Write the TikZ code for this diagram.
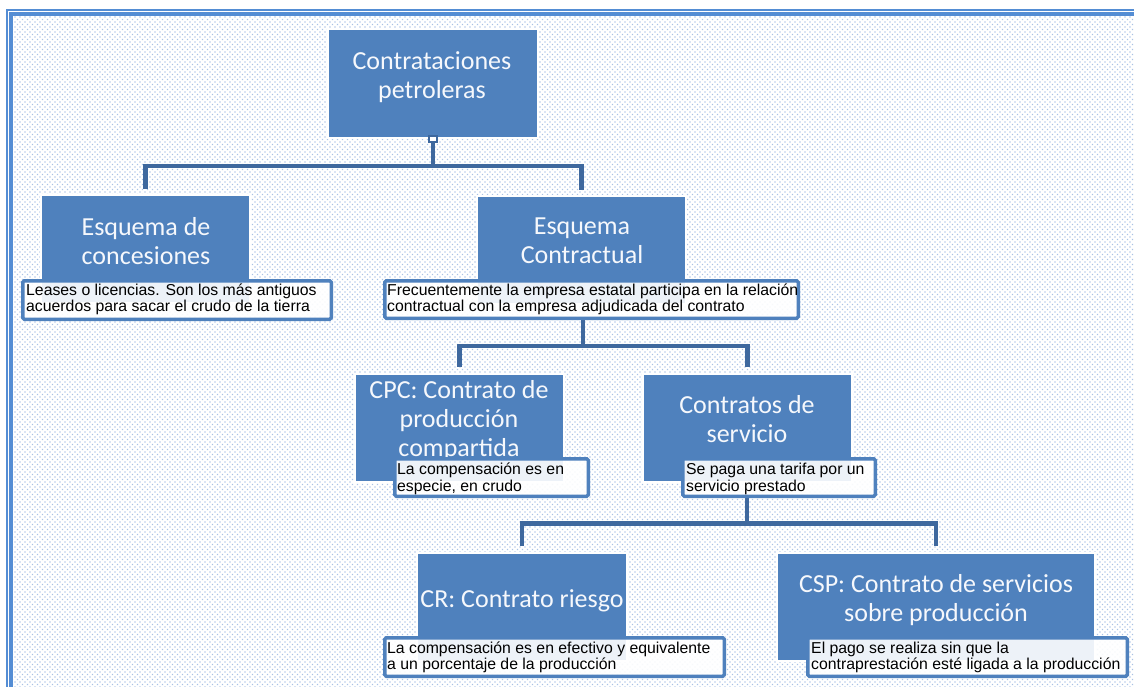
\documentclass[tikz,border=0pt]{standalone}
\usepackage{fontspec}
\usetikzlibrary{patterns}
\newfontfamily\titlefont{Carlito}
\newfontfamily\descfont{Liberation Sans}
\definecolor{boxblue}{RGB}{79,129,189}
\definecolor{linkblue}{RGB}{62,104,158}
\definecolor{framecol}{RGB}{84,141,212}
\definecolor{dotcol}{RGB}{168,193,230}
\definecolor{titlewhite}{RGB}{246,248,252}
\pgfdeclarepatternformonly{bgdots}{\pgfqpoint{-1pt}{-1pt}}{\pgfqpoint{4pt}{4pt}}{\pgfqpoint{5pt}{5pt}}{%
  \pgfpathrectangle{\pgfqpoint{-0.55pt}{-0.55pt}}{\pgfqpoint{1.1pt}{1.1pt}}%
  \pgfpathrectangle{\pgfqpoint{1.95pt}{1.95pt}}{\pgfqpoint{1.1pt}{1.1pt}}%
  \pgfusepath{fill}}
\newcommand\tstrut{\rule[-6.5pt]{0pt}{26pt}}
\newcommand\dstrut{\rule[-3.5pt]{0pt}{15.5pt}}
\tikzset{
  bbox/.style={rectangle, fill=boxblue, draw=white, line width=1.5pt, inner sep=0pt},
  ttext/.style={font=\titlefont\fontsize{26}{29}\selectfont, text=titlewhite, align=center, inner sep=0pt, anchor=north},
  dbox/.style={rectangle, draw=boxblue, line width=3.5pt, fill=white, fill opacity=0.9, rounded corners=1.5pt, inner sep=0pt},
  dtext/.style={font=\descfont\fontsize{15.8}{16.5}\selectfont, text=black, align=left, inner sep=0pt, anchor=north west},
  link/.style={draw=linkblue, line width=4.3pt},
  handle/.style={rectangle, draw=linkblue, fill=white, line width=2pt, minimum width=8pt, minimum height=6pt, inner sep=0pt}
}
\begin{document}
\begin{tikzpicture}[x=1pt, y=-1pt]
\useasboundingbox (0,0) rectangle (1134,687);
\fill[white] (0,0) rectangle (1134,687);
\begin{scope}
\clip (0,0) rectangle (1134,687);
\fill[pattern=bgdots, pattern color=dotcol] (13,16) rectangle (1134,687);
\draw[framecol, line width=2pt] (7,700) -- (7,10) -- (1140,10);
\draw[framecol, line width=4pt] (11,700) -- (11,14) -- (1140,14);
\end{scope}

% main boxes
\node[bbox, minimum width=210pt, minimum height=109pt] (top) at (433,83.5) {};
\node[bbox, minimum width=209pt, minimum height=108pt] (conc) at (145.5,249) {};
\node[bbox, minimum width=209pt, minimum height=108pt] (contr) at (581.5,250) {};
\node[bbox, minimum width=209pt, minimum height=108pt] (cpc) at (459.5,428) {};
\node[bbox, minimum width=209pt, minimum height=108pt] (serv) at (747.5,428) {};
\node[bbox, minimum width=210pt, minimum height=108pt] (cr) at (522,607) {};
\node[bbox, minimum width=318pt, minimum height=108pt] (csp) at (936,607) {};

% connectors
\coordinate (j1) at (433,166);
\draw[link] (top.south) -- (j1);
\draw[link, shorten >=5pt] (j1) -| (conc.north);
\draw[link, shorten >=5pt] (j1) -| (contr.north);
\coordinate (j2) at (583,346);
\draw[link] (j2 |- 0,318) -- (j2);
\draw[link, shorten >=6pt] (j2) -| (cpc.north);
\draw[link, shorten >=6pt] (j2) -| (serv.north);
\coordinate (j3) at (747,523.5);
\draw[link] (j3 |- 0,496) -- (j3);
\draw[link, shorten >=6pt] (j3) -| (cr.north);
\draw[link, shorten >=6pt] (j3) -| (csp.north);
\node[handle] (hdl) at (433,139.5) {};

% titles
\node[ttext] (top-t) at (432,49.5) {\tstrut Contrataciones\\\tstrut petroleras};
\node[ttext] (conc-t) at (146,215.5) {\tstrut Esquema de\\\tstrut concesiones};
\node[ttext] (contr-t) at (582,215) {\tstrut Esquema\\\tstrut Contractual};
\node[ttext] (cpc-t) at (459,378.5) {\tstrut CPC: Contrato de\\\tstrut producción\\\tstrut compartida};
\node[ttext] (serv-t) at (747,393.5) {\tstrut Contratos de\\\tstrut servicio};
\node[ttext] (cr-t) at (522,587.5) {\tstrut CR: Contrato riesgo};
\node[ttext] (csp-t) at (936,572.5) {\tstrut CSP: Contrato de servicios\\\tstrut sobre producción};

% description boxes
\node[dbox, minimum width=308.5pt, minimum height=38.5pt] (conc-d) at (177,300) {};
\node[dbox, minimum width=413.5pt, minimum height=37.5pt] (contr-d) at (591.5,299.5) {};
\node[dbox, minimum width=193.5pt, minimum height=37.5pt] (cpc-d) at (491.5,477.5) {};
\node[dbox, minimum width=192.5pt, minimum height=37.5pt] (serv-d) at (779,477.5) {};
\node[dbox, minimum width=339.5pt, minimum height=38.5pt] (cr-d) at (554.5,657) {};
\node[dbox, minimum width=319.5pt, minimum height=38.5pt] (csp-d) at (967.5,657) {};

\node[dtext] (conc-x) at (26,283) {\dstrut Leases o licencias. Son los más antiguos\\\dstrut acuerdos para sacar el crudo de la tierra};
\node[dtext] (contr-x) at (387,283) {\dstrut Frecuentemente la empresa estatal participa en la relación\\\dstrut contractual con la empresa adjudicada del contrato};
\node[dtext] (cpc-x) at (397,462.5) {\dstrut La compensación es en\\\dstrut especie, en crudo};
\node[dtext] (serv-x) at (686,462.5) {\dstrut Se paga una tarifa por un\\\dstrut servicio prestado};
\node[dtext] (cr-x) at (387,641) {\dstrut La compensación es en efectivo y equivalente\\\dstrut a un porcentaje de la producción};
\node[dtext] (csp-x) at (811,641) {\dstrut El pago se realiza sin que la\\\dstrut contraprestación esté ligada a la producción};
\end{tikzpicture}
\end{document}
